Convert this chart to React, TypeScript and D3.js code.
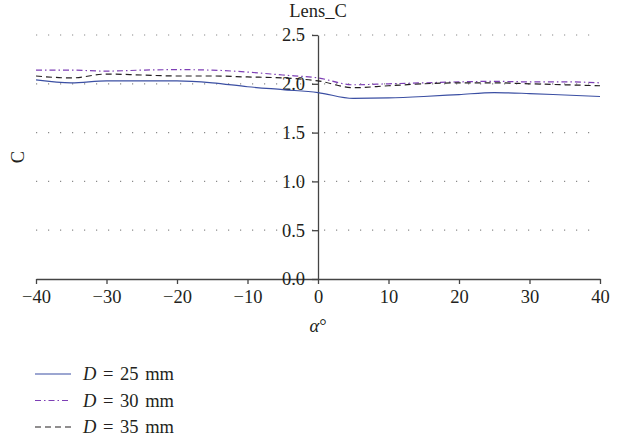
import React, { useEffect, useRef } from "react";
import * as d3 from "d3";

// angle α in degrees
const angles = [-40, -35, -30, -25, -20, -15, -10, -5, 0, 5, 10, 15, 20, 25, 30, 35, 40];
// C values per lens diameter
const d25 = [2.04, 2.01, 2.03, 2.03, 2.03, 2.01, 1.97, 1.94, 1.91, 1.85, 1.855, 1.87, 1.89, 1.91, 1.9, 1.885, 1.87];
const d30 = [2.14, 2.14, 2.13, 2.14, 2.145, 2.14, 2.12, 2.09, 2.06, 1.99, 2.0, 2.01, 2.02, 2.025, 2.02, 2.02, 2.01];
const d35 = [2.08, 2.06, 2.1, 2.09, 2.08, 2.08, 2.07, 2.06, 2.03, 1.96, 1.98, 2.0, 2.01, 2.01, 2.0, 1.99, 1.98];
const seriesNames = ["25", "30", "35"];
const xTicks = [-40, -30, -20, -10, 0, 10, 20, 30, 40];
const yTicks = [0, 0.5, 1.0, 1.5, 2.0, 2.5];

const styles = [
  { color: "#3b4fa3", dash: "none" },
  { color: "#7d3fb5", dash: "6 3 1.5 3" },
  { color: "#231f20", dash: "6 4" },
];

const font = "'Liberation Serif', 'Times New Roman', serif";

export default function App() {
  const ref = useRef<SVGSVGElement>(null);

  useEffect(() => {
    const svg = d3.select(ref.current);
    svg.selectAll("*").remove();

    const x = d3.scaleLinear().domain([-40, 40]).range([36, 600]);
    const y = d3.scaleLinear().domain([0, 2.5]).range([279, 35]);

    // dotted grid
    svg.append("g")
      .selectAll("line")
      .data(yTicks.filter((t) => t > 0))
      .enter()
      .append("line")
      .attr("x1", 36)
      .attr("x2", 600)
      .attr("y1", (d) => y(d))
      .attr("y2", (d) => y(d))
      .attr("stroke", "#8a8a8a")
      .attr("stroke-width", 1.2)
      .attr("stroke-dasharray", "1.2 10.8");

    // x axis
    const xAxis = svg.append("g")
      .attr("transform", `translate(0,${y(0)})`)
      .call(d3.axisBottom(x).tickValues(xTicks).tickSize(5).tickSizeOuter(0).tickPadding(6));

    // y axis through x = 0
    const yAxis = svg.append("g")
      .attr("transform", `translate(${x(0)},0)`)
      .call(d3.axisLeft(y).tickValues(yTicks).tickFormat(d3.format(".1f")).tickSize(6).tickSizeOuter(0).tickPadding(7));

    [xAxis, yAxis].forEach((g) => {
      g.select(".domain").attr("stroke", "#444").attr("stroke-width", 1.3);
      g.selectAll(".tick line").attr("stroke", "#444").attr("stroke-width", 1.3);
      g.selectAll("text").attr("font-family", font).attr("font-size", 18.5).attr("fill", "#231f20");
    });

    // series lines
    const line = d3.line<number>()
      .x((_, i) => x(angles[i]))
      .y((d) => y(d))
      .curve(d3.curveMonotoneX);

    [d25, d30, d35].forEach((vals, i) => {
      svg.append("path")
        .datum(vals)
        .attr("d", line)
        .attr("fill", "none")
        .attr("stroke", styles[i].color)
        .attr("stroke-width", 1.2)
        .attr("stroke-dasharray", styles[i].dash);
    });

    // titles
    svg.append("text")
      .attr("x", x(0))
      .attr("y", 17)
      .attr("text-anchor", "middle")
      .attr("font-family", font)
      .attr("font-size", 18.5)
      .attr("fill", "#231f20")
      .text("Lens_C");

    svg.append("text")
      .attr("transform", `translate(24,${(y(0) + y(2.5)) / 2}) rotate(-90)`)
      .attr("text-anchor", "middle")
      .attr("font-family", font)
      .attr("font-size", 18.5)
      .attr("fill", "#231f20")
      .text("C");

    const xl = svg.append("text")
      .attr("x", x(0))
      .attr("y", 332)
      .attr("text-anchor", "middle")
      .attr("font-family", font)
      .attr("font-size", 18.5)
      .attr("fill", "#231f20");
    xl.append("tspan").attr("font-style", "italic").text("α");
    xl.append("tspan").text("°");

    // legend
    seriesNames.forEach((name, i) => {
      const ly = 374 + i * 26.5;
      svg.append("line")
        .attr("x1", 35)
        .attr("x2", 71)
        .attr("y1", ly)
        .attr("y2", ly)
        .attr("stroke", styles[i].color)
        .attr("stroke-width", 1.2)
        .attr("stroke-dasharray", styles[i].dash);
      const t = svg.append("text")
        .attr("x", 83)
        .attr("y", ly + 6)
        .attr("font-family", font)
        .attr("font-size", 18.5)
        .attr("word-spacing", 2)
        .attr("fill", "#231f20");
      t.append("tspan").attr("font-style", "italic").text("D");
      t.append("tspan").text(` = ${name} mm`);
    });
  }, []);

  return (
    <svg
      ref={ref}
      width={622}
      height={438}
      style={{ position: "absolute", left: 0, top: 0, background: "#fff" }}
    />
  );
}
